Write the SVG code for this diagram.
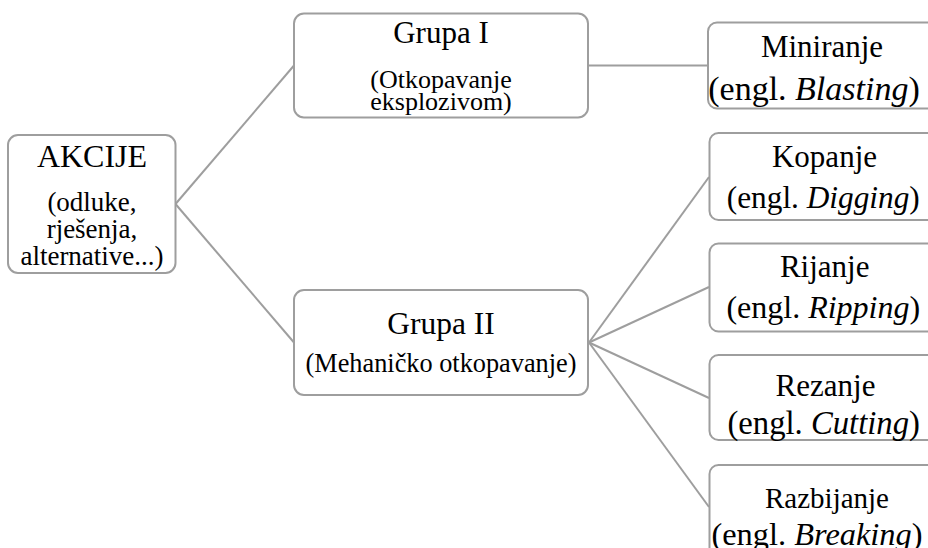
<svg xmlns="http://www.w3.org/2000/svg" width="928" height="548" viewBox="0 0 928 548">
<style>
.box{fill:#fff;stroke:#9e9e9e;stroke-width:2}
.ln{stroke:#9e9e9e;stroke-width:2;fill:none}
text{font-family:"Liberation Serif","Times New Roman",serif;fill:#000;text-anchor:middle}
.t{font-size:31px}
.s{font-size:27px}
.e{font-size:32px}
.i{font-style:italic}
</style>
<rect width="928" height="548" fill="#fff"/>
<g id="connectors">
<line class="ln" x1="175.5" y1="204" x2="294" y2="65.5"/>
<line class="ln" x1="175.5" y1="204" x2="294" y2="342.5"/>
<line class="ln" x1="588" y1="65.5" x2="708" y2="65.5"/>
<line class="ln" x1="589" y1="342.5" x2="709" y2="177"/>
<line class="ln" x1="589" y1="342.5" x2="709" y2="287"/>
<line class="ln" x1="589" y1="342.5" x2="709" y2="398"/>
<line class="ln" x1="589" y1="342.5" x2="709" y2="507"/>
</g>
<g id="akcije">
<rect class="box" x="8" y="135" width="167.5" height="138" rx="10"/>
<text class="t" x="92" y="166.5" style="font-size:32px">AKCIJE</text>
<text class="s" x="92" y="211">(odluke,</text>
<text class="s" x="92" y="238">rješenja,</text>
<text class="s" x="92" y="265">alternative...)</text>
</g>
<g id="grupa1">
<rect class="box" x="294" y="13.5" width="294" height="104" rx="10"/>
<text class="t" x="441" y="42.5">Grupa I</text>
<text class="s" x="441" y="88" style="font-size:26px">(Otkopavanje</text>
<text class="s" x="441" y="110" style="font-size:26px">eksplozivom)</text>
</g>
<g id="grupa2">
<rect class="box" x="294" y="290" width="294" height="105" rx="10"/>
<text class="t" x="441" y="333.5" style="font-size:31.5px">Grupa II</text>
<text class="s" x="441" y="372" style="font-size:26.3px">(Mehaničko otkopavanje)</text>
</g>
<g id="miniranje">
<rect class="box" x="708" y="22.5" width="240" height="86" rx="9"/>
<text class="t" x="822" y="56.5">Miniranje</text>
<text class="e" x="814" y="100" style="font-size:34px">(engl. <tspan class="i">Blasting</tspan>)</text>
</g>
<g id="kopanje">
<rect class="box" x="709.5" y="133" width="240" height="87" rx="9"/>
<text class="t" x="824.5" y="166.5">Kopanje</text>
<text class="e" x="823.3" y="207.5" style="font-size:31.3px">(engl. <tspan class="i">Digging</tspan>)</text>
</g>
<g id="rijanje">
<rect class="box" x="709.5" y="243.5" width="240" height="88" rx="9"/>
<text class="t" x="824.7" y="277">Rijanje</text>
<text class="e" x="823.3" y="317.5">(engl. <tspan class="i">Ripping</tspan>)</text>
</g>
<g id="rezanje">
<rect class="box" x="709.5" y="355" width="240" height="85" rx="9"/>
<text class="t" x="825.5" y="396">Rezanje</text>
<text class="e" x="823.7" y="433.5" style="font-size:32.7px">(engl. <tspan class="i">Cutting</tspan>)</text>
</g>
<g id="razbijanje">
<rect class="box" x="709.5" y="465" width="240" height="100" rx="9"/>
<text class="t" x="827" y="508" style="font-size:29px">Razbijanje</text>
<text class="e" x="817" y="545" style="font-size:32.4px">(engl. <tspan class="i">Breaking</tspan>)</text>
</g>
</svg>
